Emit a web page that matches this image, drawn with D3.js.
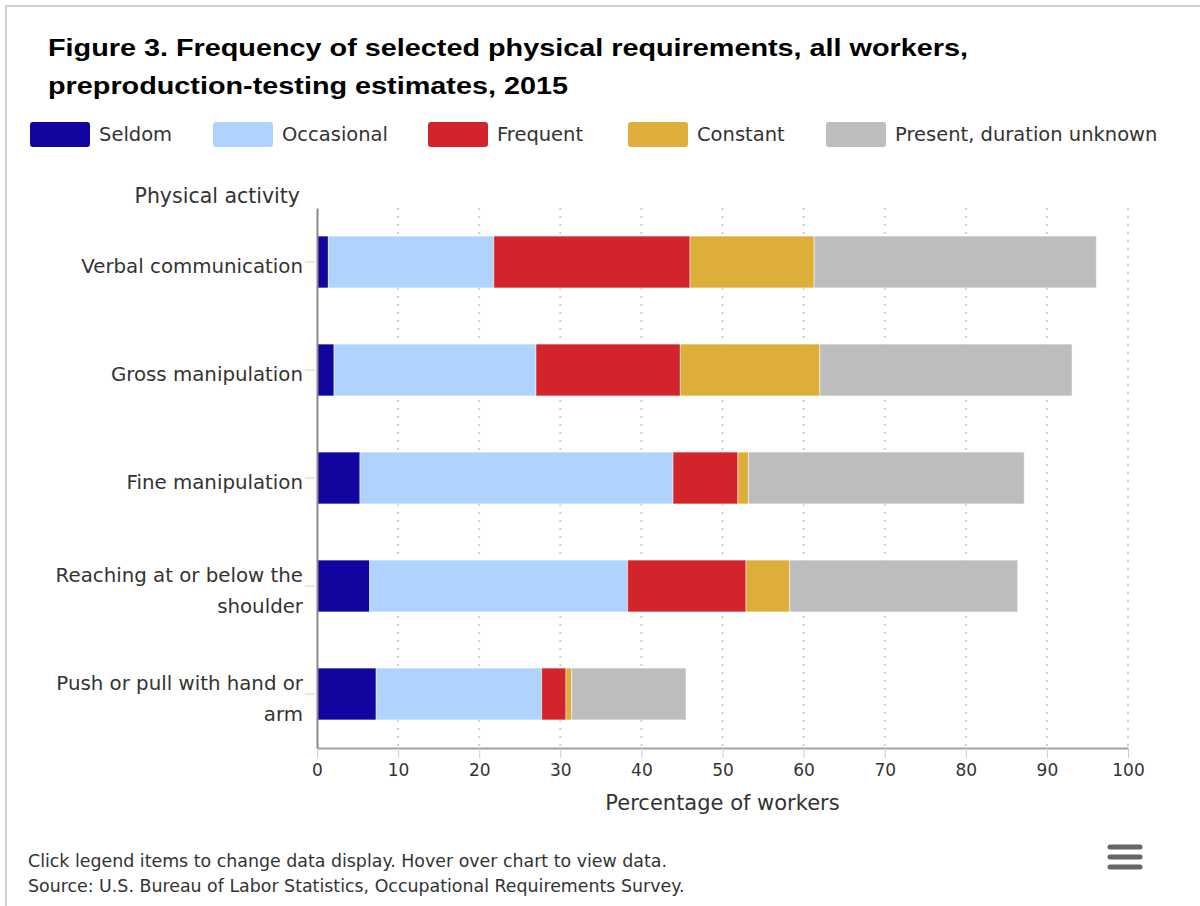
<!DOCTYPE html>
<html>
<head>
<meta charset="utf-8">
<script src="https://cdn.jsdelivr.net/npm/d3@7"></script>
<style>
  body { margin: 0; background: #fff; }
  svg { display: block; }
  text { font-family: "DejaVu Sans", sans-serif; fill: #333; }
</style>
</head>
<body>
<svg id="chart" width="1200" height="906"></svg>
<script>
const categories = [
  'Verbal communication',
  'Gross manipulation',
  'Fine manipulation',
  'Reaching at or below the shoulder',
  'Push or pull with hand or arm',
];
const seriesNames = ['Seldom', 'Occasional', 'Frequent', 'Constant', 'Present, duration unknown'];
const seldom = [1.4, 2.1, 5.3, 6.5, 7.3];
const occasional = [20.4, 24.9, 38.6, 31.8, 20.4];
const frequent = [24.2, 17.8, 8.0, 14.6, 3.0];
const constant = [15.3, 17.2, 1.3, 5.4, 0.7];
const unknown = [34.8, 31.1, 34.0, 28.1, 14.1];
const xTicks = [0, 10, 20, 30, 40, 50, 60, 70, 80, 90, 100];

const colors = ['#10069f', '#b0d3fd', '#d3232b', '#ddae3a', '#bdbdbd'];

// build rows for d3.stack
const rows = categories.map((c, i) => ({
  category: c,
  Seldom: seldom[i],
  Occasional: occasional[i],
  Frequent: frequent[i],
  Constant: constant[i],
  'Present, duration unknown': unknown[i],
}));

const svg = d3.select('#chart');

// outer frame
svg.append('rect')
  .attr('x', 6).attr('y', 6)
  .attr('width', 1300).attr('height', 1000)
  .attr('fill', 'none')
  .attr('stroke', '#d0d0d0')
  .attr('stroke-width', 2);

// title (the original is drawn a bit wide, so stretch it)
const title = svg.append('text')
  .attr('transform', 'translate(48, 0) scale(1.2, 1)')
  .style('font-family', '"Liberation Sans", Arial, sans-serif')
  .style('font-weight', 'bold')
  .style('font-size', '24px')
  .style('fill', '#000');
title.append('tspan').attr('x', 0).attr('y', 56)
  .text('Figure 3. Frequency of selected physical requirements, all workers,');
title.append('tspan').attr('x', 0).attr('y', 94)
  .text('preproduction-testing estimates, 2015');

// legend
const legendX = [30, 213, 428, 628, 826];
const legend = svg.append('g')
  .selectAll('g')
  .data(seriesNames)
  .enter()
  .append('g')
  .attr('transform', (d, i) => `translate(${legendX[i]}, 122)`);
legend.append('rect')
  .attr('width', 60).attr('height', 25)
  .attr('rx', 3)
  .attr('fill', (d, i) => colors[i]);
legend.append('text')
  .attr('x', 69).attr('y', 19)
  .style('font-size', '19.5px')
  .text(d => d);

const margin = { left: 317, right: 72, top: 208, bottom: 158 };
const width = 1200 - margin.left - margin.right;
const height = 906 - margin.top - margin.bottom;

const xScale = d3.scaleLinear().domain([0, 100]).range([0, width]);
const yScale = d3.scaleBand()
  .domain(categories)
  .range([0, height])
  .paddingInner(0.52)
  .paddingOuter(0.26);

const g = svg.append('g').attr('transform', `translate(${margin.left}, ${margin.top})`);

// dotted grid
g.append('g')
  .selectAll('line')
  .data(xTicks.filter(d => d > 0))
  .enter()
  .append('line')
  .attr('x1', d => xScale(d)).attr('x2', d => xScale(d))
  .attr('y1', 0).attr('y2', height)
  .attr('stroke', '#cfcfcf')
  .attr('stroke-width', 2)
  .attr('stroke-dasharray', '2,6');

// stacked bars
const stack = d3.stack().keys(seriesNames);
const stackedSeries = stack(rows);
g.append('g')
  .selectAll('g.series')
  .data(stackedSeries)
  .enter()
  .append('g')
  .classed('series', true)
  .style('fill', (d, i) => colors[i])
  .selectAll('rect')
  .data(d => d)
  .enter()
  .append('rect')
  .attr('x', d => xScale(d[0]))
  .attr('y', d => yScale(d.data.category))
  .attr('width', d => xScale(d[1]) - xScale(d[0]))
  .attr('height', yScale.bandwidth())
  .attr('stroke', '#fff')
  .attr('stroke-opacity', 0.5)
  .attr('stroke-width', 1);

// x axis
const xAxis = g.append('g')
  .attr('transform', `translate(0, ${height})`)
  .call(d3.axisBottom(xScale).tickValues(xTicks).tickSize(10).tickSizeOuter(0).tickPadding(6));
xAxis.select('.domain').attr('stroke', '#a0a0a0').attr('stroke-width', 2);
xAxis.selectAll('.tick line').attr('stroke', '#c0d0e0');
xAxis.selectAll('.tick text')
  .style('font-family', '"DejaVu Sans", sans-serif')
  .style('font-size', '17px')
  .style('fill', '#333');

// y axis
const yAxis = g.append('g')
  .call(d3.axisLeft(yScale).tickSize(10).tickSizeOuter(0).tickPadding(4));
yAxis.select('.domain').attr('stroke', '#888').attr('stroke-width', 2);
yAxis.selectAll('.tick line').attr('stroke', '#c0d0e0').attr('transform', 'translate(-2, 0)');
yAxis.selectAll('.tick text')
  .style('font-family', '"DejaVu Sans", sans-serif')
  .style('font-size', '19.8px')
  .style('fill', '#333')
  .call(wrap, 260);

function wrap(texts, maxWidth) {
  texts.each(function() {
    const text = d3.select(this);
    const words = text.text().split(' ');
    const x = text.attr('x');
    text.text(null);
    const lines = [];
    let line = [];
    const tspan = text.append('tspan');
    words.forEach(w => {
      line.push(w);
      tspan.text(line.join(' '));
      if (tspan.node().getComputedTextLength() > maxWidth && line.length > 1) {
        line.pop();
        lines.push(line.join(' '));
        line = [w];
      }
    });
    lines.push(line.join(' '));
    tspan.remove();
    const lh = 31;
    const start = -((lines.length - 1) * lh) / 2;
    lines.forEach((l, i) => {
      text.append('tspan')
        .attr('x', x)
        .attr('dy', i === 0 ? `${start + 11}px` : `${lh}px`)
        .text(l);
    });
    text.attr('dy', null);
  });
}

// axis titles
svg.append('text')
  .attr('x', 300).attr('y', 203)
  .attr('text-anchor', 'end')
  .style('font-size', '20.5px')
  .text('Physical activity');
svg.append('text')
  .attr('x', margin.left + width / 2).attr('y', 810)
  .attr('text-anchor', 'middle')
  .style('font-size', '21px')
  .text('Percentage of workers');

// footer
svg.append('text')
  .attr('x', 28).attr('y', 867)
  .style('font-size', '17.4px')
  .text('Click legend items to change data display. Hover over chart to view data.');
svg.append('text')
  .attr('x', 28).attr('y', 892)
  .style('font-size', '17.4px')
  .text('Source: U.S. Bureau of Labor Statistics, Occupational Requirements Survey.');

// menu icon
svg.append('g')
  .selectAll('line')
  .data([0, 1, 2])
  .enter()
  .append('line')
  .attr('x1', 1110).attr('x2', 1140)
  .attr('y1', d => 847 + d * 10).attr('y2', d => 847 + d * 10)
  .attr('stroke', '#666')
  .attr('stroke-width', 5)
  .attr('stroke-linecap', 'round');
</script>
</body>
</html>
